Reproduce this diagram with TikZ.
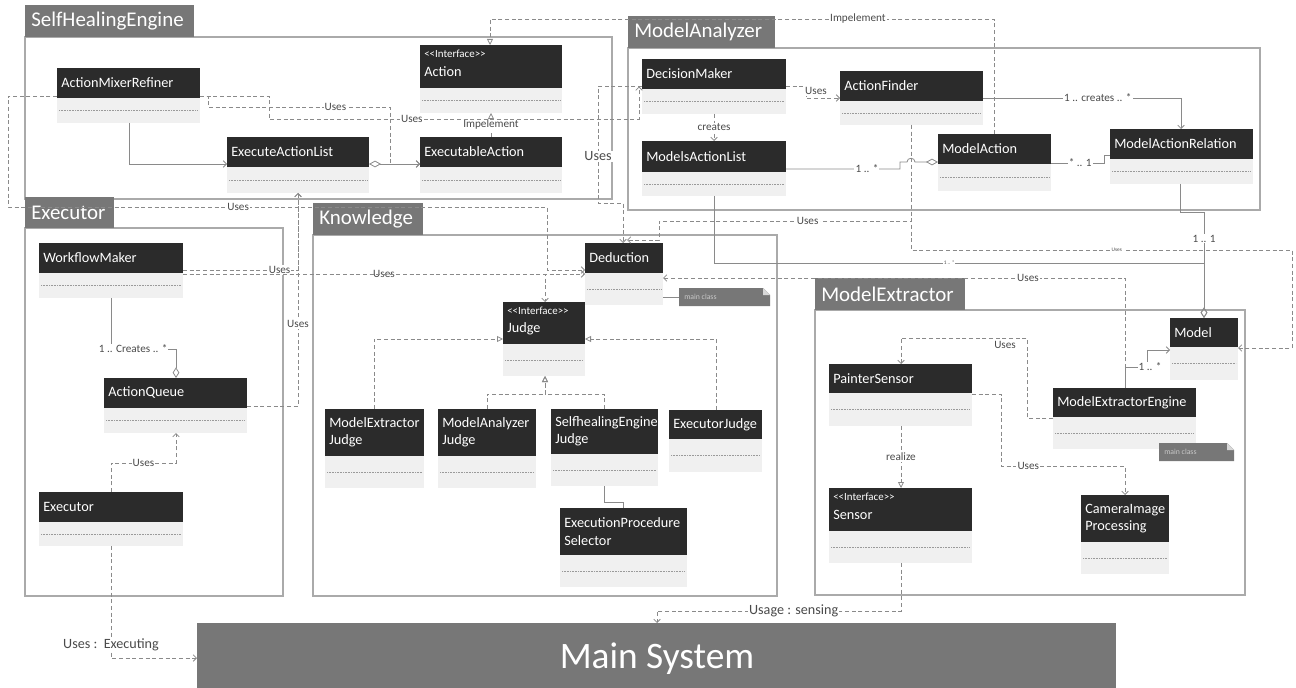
\documentclass[tikz,border=0pt]{standalone}
\usepackage{fontspec}
\setmainfont{Carlito}
\usetikzlibrary{arrows.meta,fit}
\definecolor{headc}{HTML}{2B2B2B}
\definecolor{bodyc}{HTML}{F0F0F0}
\definecolor{tabc}{HTML}{777777}
\definecolor{framec}{HTML}{AAAAAA}
\definecolor{linec}{HTML}{8A8A8A}
\definecolor{labelc}{HTML}{4A4A4A}
\definecolor{dotc}{HTML}{9A9A9A}
\definecolor{notetxtc}{HTML}{C8C8C8}
\definecolor{foldc}{HTML}{D8D8D8}
\tikzset{
  frame/.style={draw=framec, line width=0.8pt},
  tabtxt/.style={anchor=west, inner sep=0pt, text=white, font=\fontsize{15.7}{16}\selectfont},
  clsname/.style={anchor=west, inner sep=0pt, text=white, align=left, font=\fontsize{10.7}{13}\selectfont},
  ifacetxt/.style={anchor=west, inner sep=0pt, text=white, font=\fontsize{8.2}{9}\selectfont},
  clsdot/.style={draw=dotc, line width=0.5pt, dash pattern=on 0.6pt off 0.6pt},
  boxfit/.style={inner sep=0pt, outer sep=0pt},
  notetxt/.style={anchor=west, inner sep=0pt, text=notetxtc, font=\fontsize{5.8}{6}\selectfont},
  conn/.style={draw=linec, line width=0.6pt},
  dep/.style={conn, dash pattern=on 3pt off 2pt, -{Straight Barb[length=2.5pt,width=5pt]}},
  realize/.style={conn, dash pattern=on 3pt off 2pt, -{Triangle[open,length=4.5pt,width=4.5pt]}},
  assocarr/.style={conn, -{Straight Barb[length=2.5pt,width=5pt]}},
  lbl/.style={font=\fontsize{8.4}{9}\selectfont, text=labelc, fill=white, inner sep=0.8pt},
  lblplain/.style={font=\fontsize{8.4}{9}\selectfont, text=labelc, inner sep=0.8pt},
  lblbig/.style={font=\fontsize{10.6}{11}\selectfont, text=labelc, fill=white, inner sep=0.8pt},
  lbltiny/.style={font=\fontsize{4}{4}\selectfont, text=labelc, fill=white, inner sep=0.5pt},
  aggrdia/.style={conn, -{Diamond[open,length=8pt,width=5pt]}},
}
\newcommand\umlpkg[8]{%
  \draw[frame] (#2,#5) rectangle (#6,#7);
  \fill[tabc] (#2,#3) rectangle (#4,#5);
  \node[tabtxt] (#1) at ({#2+6},{(#3+#5)/2}) {#8};
}
\newcommand\umlbox[7]{%
  \fill[bodyc] (#2,#3) rectangle (#4,#6);
  \fill[headc] (#2,#3) rectangle (#4,#5);
  \draw[clsdot] ({#2+2},{(#5+#6)/2}) -- ({#4-2},{(#5+#6)/2});
  \node[clsname] (#1-n) at ({#2+4},{(#3+#5)/2}) {#7};
  \node[boxfit, fit={(#2,#3) (#4,#6)}] (#1) {};
}
\newcommand\umliface[7]{%
  \fill[bodyc] (#2,#3) rectangle (#4,#6);
  \fill[headc] (#2,#3) rectangle (#4,#5);
  \draw[clsdot] ({#2+2},{(#5+#6)/2}) -- ({#4-2},{(#5+#6)/2});
  \node[ifacetxt] (#1-s) at ({#2+4},{#3+9}) {<{}<Interface>{}>};
  \node[clsname] (#1-n) at ({#2+4},{#3+27}) {#7};
  \node[boxfit, fit={(#2,#3) (#4,#6)}] (#1) {};
}
\newcommand\umlnote[5]{%
  \fill[tabc] (#2,#3) -- ({#4-7},#3) -- (#4,{#3+7}) -- (#4,#5) -- (#2,#5) -- cycle;
  \fill[foldc] ({#4-7},#3) -- (#4,{#3+7}) -- ({#4-7},{#3+7}) -- cycle;
  \node[notetxt] (#1-t) at ({#2+5},{(#3+#5)/2}) {main class};
  \node[boxfit, fit={(#2,#3) (#4,#5)}] (#1) {};
}
\begin{document}
\begin{tikzpicture}[x=0.75pt,y=-0.75pt]
\useasboundingbox (0,0) rectangle (1296,688);
% packages
\umlpkg{pSHE}{25}{5}{194}{37}{612}{199}{SelfHealingEngine}
\umlpkg{pMA}{628}{16}{775}{48}{1260}{210}{ModelAnalyzer}
\umlpkg{pEX}{25}{197}{114}{228}{283}{596}{Executor}
\umlpkg{pKN}{313}{203}{423}{235}{777}{596}{Knowledge}
\umlpkg{pME}{815}{278}{965}{310}{1245}{595}{ModelExtractor}
% SelfHealingEngine
\umlbox{AMR}{57}{68}{200}{98}{123}{ActionMixerRefiner}
\umliface{Action}{420}{45}{562}{88}{113}{Action}
\umlbox{EAL}{227}{137}{369}{167}{193}{ExecuteActionList}
\umlbox{EA}{420}{137}{562}{167}{193}{ExecutableAction}
% Executor
\umlbox{WM}{39}{243}{183}{273}{298}{WorkflowMaker}
\umlbox{AQ}{104}{378}{247}{408}{433}{ActionQueue}
\umlbox{Exec}{39}{492}{183}{522}{546}{Executor}
% Knowledge
\umlbox{Ded}{585}{243}{663}{273}{305}{Deduction}
\umlnote{N1}{679}{288}{770}{306}
\umliface{Judge}{503}{302}{585}{344}{376}{Judge}
\umlbox{MEJ}{325}{409}{424}{456}{488}{ModelExtractor\\Judge}
\umlbox{MAJ}{438}{409}{536}{456}{488}{ModelAnalyzer\\Judge}
\umlbox{SEJ}{551}{409}{658}{454}{486}{SelfhealingEngine\\Judge}
\umlbox{EJ}{669}{410}{762}{439}{472}{ExecutorJudge}
\umlbox{EPS}{560}{508}{687}{555}{587}{ExecutionProcedure\\Selector}
% ModelAnalyzer
\umlbox{DM}{642}{59}{786}{89}{114}{DecisionMaker}
\umlbox{AF}{840}{71}{983}{101}{125}{ActionFinder}
\umlbox{MAL}{642}{141}{786}{172}{196}{ModelsActionList}
\umlbox{MA}{938}{134}{1051}{164}{191}{ModelAction}
\umlbox{MAR}{1110}{129}{1253}{159}{184}{ModelActionRelation}
% ModelExtractor
\umlbox{Model}{1170}{318}{1238}{347}{380}{Model}
\umlbox{PS}{829}{364}{972}{393}{426}{PainterSensor}
\umlbox{MEE}{1053}{388}{1196}{417}{449}{ModelExtractorEngine}
\umlnote{N2}{1159}{443}{1234}{461}
\umliface{Sensor}{829}{488}{972}{531}{563}{Sensor}
\umlbox{CIP}{1081}{495}{1169}{542}{574}{CameraImage\\Processing}
% Main system
\fill[tabc] (197,623) rectangle (1116,688);
\node[boxfit, fit={(197,623) (1116,688)}] (Main) {};
\node[inner sep=0pt, text=white, font=\fontsize{28}{30}\selectfont] (MainTxt) at (657,659) {Main System};
% ---- connectors: SelfHealingEngine
\draw[assocarr] (AMR.south -| 129,0) |- (EAL.west |- 0,164);
\draw[conn, {Diamond[open,length=9pt,width=5pt]}-{Straight Barb[length=2.5pt,width=5pt]}] (EAL.east |- 0,164) -- (EA.west |- 0,164);
\draw[realize] (EA.north -| 491,0) -- node[lbl]{Impelement} (Action.south -| 491,0);
\draw[dep] (AMR.east |- 0,96) -- (208,96) -- (208,107) -- node[lbl,pos=0.7]{Uses} (390,107) -- (390,164) -- (EA.west |- 0,164);
\draw[dep] (AMR.east |- 0,96) -- (269,96) -- (269,119) -- node[lbl,pos=0.386]{Uses} (639,119) -- (DM.west -| 639,0);
\draw[dep] (DM.west |- 0,86) -- (598,86) -- node[lblbig,pos=0.6]{Uses} (598,203) -- (623,203) -- (Ded.north -| 623,0);
\draw[dep] (AMR.west |- 0,96) -- (8,96) -- (8,207) -- node[lbl,pos=0.427]{Uses} (547,207) -- (547,270) -- (Ded.west |- 0,270);
% ---- Executor
\draw[dep] (WM.east |- 0,270) -- node[lbl,pos=0.84]{Uses} (298,270) -- (EAL.south -| 298,0);
\draw[dep] (AQ.east |- 0,406) -- (298,406) -- node[lbl,pos=0.385]{Uses} (EAL.south -| 298,0);
\draw[dep] (WM.east |- 0,274) -- node[lbl,pos=0.5]{Uses} (Ded.west |- 0,274);
\draw[dep] (WM.east |- 0,274) -| (Judge.north -| 545,0);
\draw[aggrdia] (WM.south -| 111,0) -- (111,349) -- node[lbl,pos=0.34]{1 .. Creates .. *} (176,349) -- (AQ.north -| 176,0);
\draw[dep] (Exec.north -| 111,0) -- (111,463) -- node[lbl]{Uses} (176,463) -- (AQ.south -| 176,0);
\draw[dep] (Exec.south -| 111,0) -- (111,658) -- (Main.west |- 0,658);
\node[lblbig] (lblExe) at (111,645) {Uses :\ \ Executing};
% ---- Knowledge
\draw[realize] (MEJ.north -| 374,0) |- (Judge.west |- 0,339);
\draw[realize] (EJ.north -| 716,0) |- (Judge.east |- 0,339);
\draw[realize] (MAJ.north -| 487,0) |- (545,394) -- (Judge.south -| 545,0);
\draw[realize] (SEJ.north -| 604,0) |- (545,394) -- (Judge.south -| 545,0);
\draw[conn] (SEJ.south -| 604,0) |- (623,502) -- (EPS.north -| 623,0);
\draw[conn] (Ded.east |- 0,297) -- (N1.west |- 0,297);
% ---- ModelAnalyzer
\draw[dep] (DM.east |- 0,86) -- (806,86) -- (806,98) -- (AF.west |- 0,98);
\node[lbl] (lblDMAF) at (816,91) {Uses};
\draw[dep] (DM.south -| 714,0) -- node[lbl]{creates} (MAL.north -| 714,0);
\draw[assocarr] (AF.east |- 0,98) -- node[lbl,pos=0.58]{1 .. creates .. *} (1181,98) -- (MAR.north -| 1181,0);
\draw[conn, {Diamond[open,length=9pt,width=5pt]}-] (MA.west |- 0,162) -- (915,162) to[out=90,in=90,looseness=1.6] (907,162) -- (900,162) -- (900,169) -- node[lbl,pos=0.29]{1 .. *} (MAL.east |- 0,169);
\draw[conn] (MA.east |- 0,163) -- node[lbl,pos=0.55]{* .. 1} (1104,163) -- (1104,155) -- (MAR.west |- 0,155);
\draw[realize] (MA.north -| 994,0) -- (994,19) -- node[lbl,pos=0.27]{Impelement} (490,19) -- (Action.north -| 490,0);
\draw[dep] (AF.south -| 911,0) -- (911,221) -- node[lbl,pos=0.41]{Uses} (659,221) -- (659,240) -- (627,240);
\draw[dep] (AF.south -| 911,0) -- (911,250) -- node[lbltiny,pos=0.54]{Uses} (1292,250) -- (1292,348) -- (Model.east |- 0,348);
\draw[aggrdia] (MAL.south -| 714,0) -- (714,263) -- node[lbltiny,pos=0.48]{1 .. *} (1204,263) -- (Model.north -| 1204,0);
\draw[aggrdia] (MAR.south -| 1180,0) -- (1180,212) -- (1204,212) -- node[lbl,pos=0.25]{1 .. 1} (Model.north -| 1204,0);
% ---- ModelExtractor
\draw[dep] (MEE.west |- 0,418) -- (1027,418) -- (1027,338) -- (901,338) -- (PS.north -| 901,0);
\node[lblplain] (lblMEEPS) at (1005,345) {Uses};
\draw[assocarr] (MEE.north -| 1125,0) -- (1125,367) -- (1147,367) -- (1147,350) -- (Model.west |- 0,350);
\node[lbl] (lblMEEM) at (1150,367) {1 .. *};
\draw[dep] (MEE.north -| 1125,0) -- (1125,278) -- node[lbl,pos=0.21]{Uses} (Ded.east |- 0,278);
\draw[dep] (PS.east |- 0,394) -- (1001,394) -- (1001,466) -- node[lbl,pos=0.22]{Uses} (1125,466) -- (CIP.north -| 1125,0);
\draw[realize] (PS.south -| 901,0) -- node[lbl]{realize} (Sensor.north -| 901,0);
\draw[dep] (Sensor.south -| 901,0) -- (901,611) -- node[lblbig,pos=0.44]{Usage : sensing} (657,611) -- (Main.north -| 657,0);
\end{tikzpicture}
\end{document}
